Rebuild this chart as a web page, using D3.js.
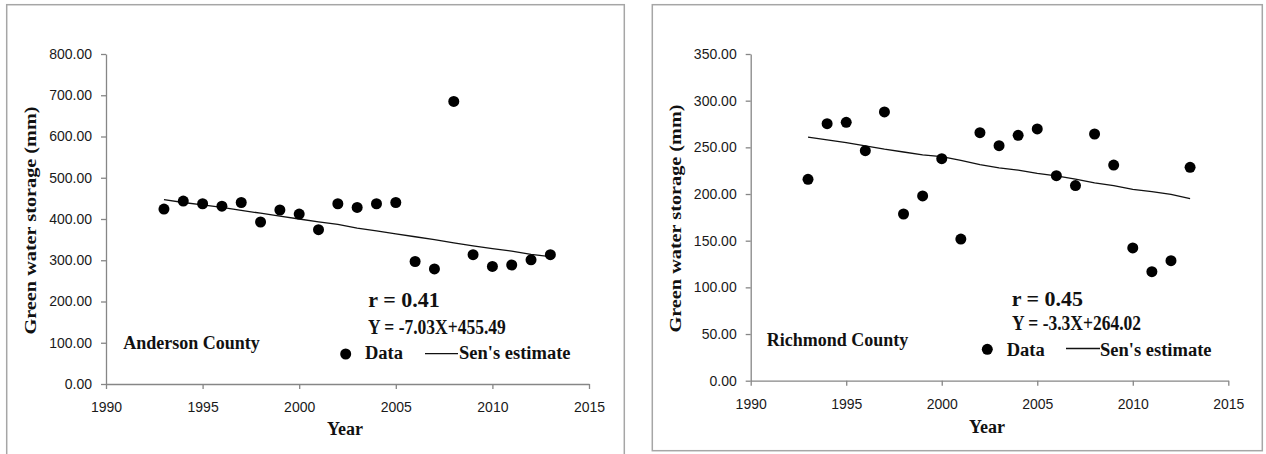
<!DOCTYPE html>
<html>
<head>
<meta charset="utf-8">
<script src="https://cdn.jsdelivr.net/npm/d3@7/dist/d3.min.js"></script>
<style>
  html, body { margin: 0; padding: 0; background: #fff; }
  svg { display: block; }
</style>
</head>
<body>
<svg id="chart" width="1266" height="454"></svg>
<script>
// ---- data ----
const years = [1993, 1994, 1995, 1996, 1997, 1998, 1999, 2000, 2001, 2002, 2003,
               2004, 2005, 2006, 2007, 2008, 2009, 2010, 2011, 2012, 2013];

const andersonData = [424, 443.6, 437, 431, 440, 392.7, 421.8, 412, 374, 437, 428,
                      437, 440, 297, 279, 685, 313.5, 285, 288.5, 301, 313.5];
const andersonSen  = [447, 440, 434, 428, 421, 414, 407, 400, 393, 387, 378,
                      371, 364, 357, 350, 342, 335, 328, 322, 314, 309];

const richmondData = [215.8, 275.3, 276.8, 246.4, 287.9, 178.6, 197.9, 237.8, 151.7, 265.7, 251.8,
                      262.9, 269.7, 219.6, 209, 264.3, 231, 142.2, 116.8, 128.6, 228.6];
const richmondSen  = [261, 258, 255, 251.5, 248, 245, 242, 240, 236, 231.5, 228,
                      225.5, 222, 219.5, 216, 212, 209, 205, 202.5, 199.5, 195];

const xTicks = [1990, 1995, 2000, 2005, 2010, 2015];
const andersonYTicks = [0, 100, 200, 300, 400, 500, 600, 700, 800];
const richmondYTicks = [0, 50, 100, 150, 200, 250, 300, 350];

const yTitle = "Green water storage (mm)";
const xTitle = "Year";
const legendData = "Data";
const legendSen = "Sen's estimate";

// ---- drawing ----
const svg = d3.select("#chart");
const SERIF = "'Liberation Serif', 'Times New Roman', serif";
const SANS = "'Liberation Sans', Arial, sans-serif";

function panel(cfg) {
  const g = svg.append("g");
  // frame
  g.append("rect")
    .attr("x", cfg.frame[0]).attr("y", cfg.frame[1])
    .attr("width", cfg.frame[2] - cfg.frame[0]).attr("height", cfg.frame[3] - cfg.frame[1])
    .attr("fill", "#fff").attr("stroke", "#a6a6a6").attr("stroke-width", 1.5);

  const x = d3.scaleLinear().domain([1990, 2015]).range(cfg.xRange);
  const y = d3.scaleLinear().domain(cfg.yDomain).range(cfg.yRange);

  const yAxis = d3.axisLeft(y).tickValues(cfg.yTicks).tickFormat(d3.format(".2f"))
    .tickSizeInner(5).tickSizeOuter(0).tickPadding(9);
  const xAxis = d3.axisBottom(x).tickValues(xTicks).tickFormat(d3.format("d"))
    .tickSizeInner(5).tickSizeOuter(0).tickPadding(13);

  const ya = g.append("g").attr("transform", `translate(${cfg.xRange[0]},0)`).call(yAxis);
  const xa = g.append("g").attr("transform", `translate(0,${cfg.yRange[0]})`).call(xAxis);
  [ya, xa].forEach(a => {
    a.select(".domain").attr("stroke", "#868686").attr("stroke-width", 1.3);
    a.selectAll(".tick line").attr("stroke", "#868686").attr("stroke-width", 1.3);
    a.selectAll(".tick text").attr("fill", "#1a1a1a").attr("font-family", SANS).attr("font-size", 14);
  });

  // Sen's estimate line
  const line = d3.line().x((d, i) => x(years[i])).y(d => y(d));
  g.append("path").datum(cfg.sen)
    .attr("d", line).attr("fill", "none").attr("stroke", "#111").attr("stroke-width", 1.3);

  // data points
  g.selectAll("circle.pt").data(cfg.data).enter().append("circle")
    .attr("class", "pt")
    .attr("cx", (d, i) => x(years[i])).attr("cy", d => y(d)).attr("r", 5.5)
    .attr("fill", "#000");

  // axis titles
  g.append("text")
    .attr("transform", `translate(${cfg.yTitlePos[0]},${cfg.yTitlePos[1]}) rotate(-90)`)
    .attr("text-anchor", "middle")
    .attr("font-family", SERIF).attr("font-weight", "bold").attr("font-size", 16)
    .attr("textLength", 228).attr("lengthAdjust", "spacingAndGlyphs")
    .attr("fill", "#111")
    .text(yTitle);
  g.append("text")
    .attr("x", cfg.xTitlePos[0]).attr("y", cfg.xTitlePos[1])
    .attr("text-anchor", "middle")
    .attr("font-family", SERIF).attr("font-weight", "bold").attr("font-size", 18)
    .attr("fill", "#111")
    .text(xTitle);

  // county label
  g.append("text")
    .attr("x", cfg.countyPos[0]).attr("y", cfg.countyPos[1])
    .attr("font-family", SERIF).attr("font-weight", "bold").attr("font-size", 18)
    .attr("fill", "#111")
    .text(cfg.county);

  // stats
  g.append("text")
    .attr("x", cfg.rPos[0]).attr("y", cfg.rPos[1])
    .attr("font-family", SERIF).attr("font-weight", "bold").attr("font-size", 22)
    .attr("fill", "#111")
    .text(cfg.rText);
  g.append("text")
    .attr("transform", `translate(${cfg.eqPos[0]},${cfg.eqPos[1]}) scale(1,1.18)`)
    .attr("font-family", SERIF).attr("font-weight", "bold").attr("font-size", 17.5)
    .attr("fill", "#111")
    .text(cfg.eqText);

  // legend
  const L = cfg.legend;
  g.append("circle").attr("cx", L.dot[0]).attr("cy", L.dot[1]).attr("r", 5.5).attr("fill", "#000");
  g.append("text").attr("x", L.dataText[0]).attr("y", L.dataText[1])
    .attr("font-family", SERIF).attr("font-weight", "bold").attr("font-size", 18.5)
    .attr("fill", "#111").text(legendData);
  g.append("line").attr("x1", L.line[0]).attr("x2", L.line[1])
    .attr("y1", L.line[2]).attr("y2", L.line[2])
    .attr("stroke", "#111").attr("stroke-width", 1.3);
  g.append("text").attr("x", L.senText[0]).attr("y", L.senText[1])
    .attr("font-family", SERIF).attr("font-weight", "bold").attr("font-size", 18.5)
    .attr("fill", "#111").text(legendSen);
}

panel({
  frame: [6.7, 4.7, 624.3, 470],
  xRange: [106, 589],
  yDomain: [0, 800], yRange: [384, 54],
  yTicks: andersonYTicks,
  data: andersonData, sen: andersonSen,
  yTitlePos: [36, 220.5],
  xTitlePos: [345, 435],
  county: "Anderson County", countyPos: [123.3, 349],
  rText: "r = 0.41", rPos: [368.3, 306.7],
  eqText: "Y = -7.03X+455.49", eqPos: [368, 333.5],
  legend: { dot: [345.7, 354], dataText: [365, 359.3], line: [425, 458, 353.7], senText: [459, 359.3] }
});

panel({
  frame: [652.3, 4.7, 1262.3, 450.7],
  xRange: [750.7, 1228.3],
  yDomain: [0, 350], yRange: [380.7, 54],
  yTicks: richmondYTicks,
  data: richmondData, sen: richmondSen,
  yTitlePos: [681, 218.5],
  xTitlePos: [987, 432.7],
  county: "Richmond County", countyPos: [766.7, 345.7],
  rText: "r = 0.45", rPos: [1011.7, 306],
  eqText: "Y = -3.3X+264.02", eqPos: [1012, 330],
  legend: { dot: [987.3, 349.3], dataText: [1006.7, 355.5], line: [1066, 1100, 348.5], senText: [1100, 355.5] }
});
</script>
</body>
</html>
